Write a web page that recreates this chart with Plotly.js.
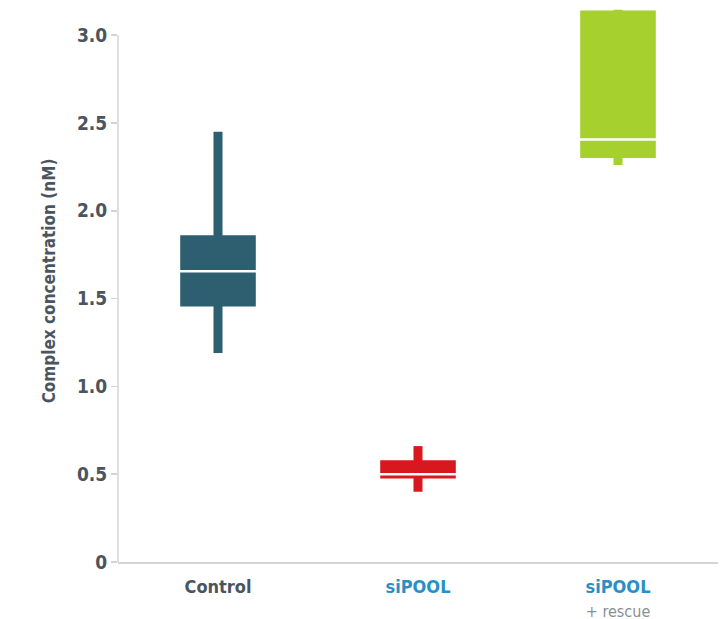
<!DOCTYPE html>
<html>
<head>
<meta charset="utf-8">
<script src="https://cdn.plot.ly/plotly-3.0.1.min.js"></script>
<style>html,body{margin:0;padding:0;background:#fff;}#chart{width:725px;height:619px;}</style>
</head>
<body>
<div id="chart"></div>
<script>
const categories = ['Control', 'siPOOL', 'siPOOL + rescue'];
const whiskerLow = [1.19, 0.40, 2.26];
const q1 = [1.455, 0.475, 2.30];
const median = [1.655, 0.50, 2.405];
const q3 = [1.86, 0.58, 3.14];
const whiskerHigh = [2.45, 0.66, 3.145];
const colors = ['#2e5f70', '#d7191f', '#a6d02e'];
const yTicks = [0, 0.5, 1.0, 1.5, 2.0, 2.5, 3.0];
const yTickText = ['0', '0.5', '1.0', '1.5', '2.0', '2.5', '3.0'];
const xTickText = [
  '<b>Control</b>',
  '<b><span style="color:#2a8fc4">siPOOL</span></b>',
  '<b><span style="color:#2a8fc4">siPOOL</span></b><br><span style="font-size:16px;color:#8a8f94;font-weight:normal">+ rescue</span>'
];

const xs = categories.map((c, i) => i);
const FONT = '"DejaVu Sans Condensed", "DejaVu Sans", sans-serif';

const whiskers = {
  type: 'bar', x: xs, base: whiskerLow,
  y: whiskerHigh.map((v, i) => v - whiskerLow[i]),
  width: 0.045, marker: {color: colors, line: {width: 0}},
  hoverinfo: 'skip', showlegend: false
};
const boxes = {
  type: 'bar', x: xs, base: q1,
  y: q3.map((v, i) => v - q1[i]),
  width: 0.378, marker: {color: colors, line: {width: 0}},
  hoverinfo: 'skip', showlegend: false
};
const medians = {
  type: 'scatter', mode: 'markers', x: xs, y: median,
  marker: {symbol: 'line-ew', size: 76, color: '#ffffff', line: {color: '#ffffff', width: 2.5}},
  hoverinfo: 'skip', showlegend: false, cliponaxis: false
};

const layout = {
  width: 725, height: 619,
  margin: {l: 118, r: 7, t: 0, b: 57},
  paper_bgcolor: '#ffffff', plot_bgcolor: '#ffffff',
  barmode: 'overlay',
  showlegend: false,
  font: {family: FONT, color: '#4a5560'},
  xaxis: {
    range: [-0.5, 2.5], tickvals: xs, ticktext: xTickText,
    showgrid: false, zeroline: false, showline: true, linecolor: '#d4d4d4', linewidth: 1.5,
    ticks: '', ticklabelstandoff: 8, tickfont: {family: FONT, size: 18, color: '#4a5560'},
    fixedrange: true
  },
  yaxis: {
    range: [0, 3.2], tickvals: yTicks, ticktext: yTickText,
    showgrid: false, zeroline: false, showline: false,
    ticks: 'outside', ticklen: 6, tickcolor: '#d4d4d4', tickwidth: 1.5,
    tickfont: {family: FONT, size: 19, color: '#4a5560', weight: 'bold'},
    title: {text: 'Complex concentration (nM)', font: {family: FONT, size: 17, color: '#4a5560', weight: 'bold'}, standoff: 16},
    fixedrange: true
  },
  shapes: [{
    type: 'line', xref: 'paper', yref: 'y', x0: 0, x1: 0, y0: 0, y1: 3.0,
    line: {color: '#d4d4d4', width: 1.5}, layer: 'below'
  }]
};

Plotly.newPlot('chart', [whiskers, boxes, medians], layout, {displayModeBar: false, staticPlot: true});
</script>
</body>
</html>
